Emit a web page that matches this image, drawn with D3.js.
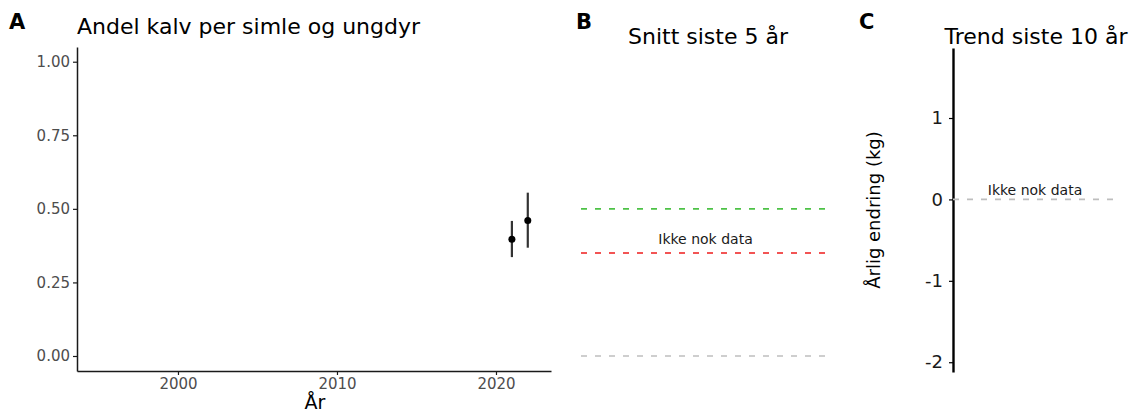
<!DOCTYPE html>
<html>
<head>
<meta charset="utf-8">
<script src="https://cdn.jsdelivr.net/npm/d3@7"></script>
<style>
  body { margin: 0; background: #fff; }
  text { font-family: "DejaVu Sans", sans-serif; }
</style>
</head>
<body>
<svg id="chart" width="1131" height="412"></svg>
<script>
// data
var years = [2021, 2022];
var andel = [0.397, 0.46];
var andelLow = [0.336, 0.368];
var andelHigh = [0.459, 0.555];
var yTicksA = [0, 0.25, 0.5, 0.75, 1];
var xTicksA = [2000, 2010, 2020];

var refValues = [0.5, 0.35, 0];       // panel B reference lines
var refLabel = "Ikke nok data";
var trendTicks = [1, 0, -1, -2];
var trendRef = 0;

var refColors = ["#4dc247", "#ee1c1c", "#bebebe"];

var svg = d3.select('#chart');

// ---- panel A
var xA = d3.scaleLinear().domain([1993.65, 2023.46]).range([77, 551]);
var yA = d3.scaleLinear().domain([-0.051, 1.05]).range([371, 47]);

svg.append('text').attr('x', 9).attr('y', 29).style('font-size', '21px')
  .style('font-weight', 'bold').text('A');
svg.append('text').attr('x', 77).attr('y', 34).style('font-size', '22px')
  .attr('fill', '#000').text('Andel kalv per simle og ungdyr');

var axY = svg.append('g').attr('transform', 'translate(77,0)')
  .call(d3.axisLeft(yA).tickValues(yTicksA).tickFormat(d3.format('.2f')).tickSize(4).tickSizeOuter(0).tickPadding(3));
var axX = svg.append('g').attr('transform', 'translate(0,371)')
  .call(d3.axisBottom(xA).tickValues(xTicksA).tickFormat(d3.format('d')).tickSize(4).tickSizeOuter(0).tickPadding(3));
[axY, axX].forEach(function (ax) {
  ax.select('.domain').attr('stroke', '#1a1a1a').attr('stroke-width', 1.5);
  ax.selectAll('.tick line').attr('stroke', '#1a1a1a').attr('stroke-width', 1.2);
  ax.selectAll('.tick text').attr('fill', '#4d4d4d').style('font-size', '15px');
});
svg.append('text').attr('x', 315).attr('y', 409).attr('text-anchor', 'middle')
  .style('font-size', '19px').text('År');

var pts = years.map(function (y, i) { return {year: y, v: andel[i], lo: andelLow[i], hi: andelHigh[i]}; });
svg.selectAll('.err').data(pts).enter().append('line')
  .attr('x1', d => xA(d.year)).attr('x2', d => xA(d.year))
  .attr('y1', d => yA(d.lo)).attr('y2', d => yA(d.hi))
  .attr('stroke', '#333').attr('stroke-width', 2.2);
svg.selectAll('.pt').data(pts).enter().append('circle')
  .attr('cx', d => xA(d.year)).attr('cy', d => yA(d.v)).attr('r', 3.5).attr('fill', '#000');

// ---- panel B
var xB = d3.scaleLinear().domain([0, 1]).range([581, 830]);
svg.append('text').attr('x', 576).attr('y', 29).style('font-size', '21px')
  .style('font-weight', 'bold').text('B');
svg.append('text').attr('x', 708).attr('y', 44).attr('text-anchor', 'middle')
  .style('font-size', '22px').text('Snitt siste 5 år');
svg.selectAll('.ref').data(refValues).enter().append('line')
  .attr('x1', xB(0)).attr('x2', xB(1))
  .attr('y1', d => yA(d)).attr('y2', d => yA(d))
  .attr('stroke', (d, i) => refColors[i]).attr('stroke-width', 1.6)
  .attr('stroke-dasharray', '6,8');
svg.append('text').attr('x', xB(0.5)).attr('y', yA(refValues[1]) - 9)
  .attr('text-anchor', 'middle').style('font-size', '14px').attr('fill', '#1a1a1a').text(refLabel);

// ---- panel C
var yC = d3.scaleLinear().domain([-2.12, 1.86]).range([372, 48]);
var xC = d3.scaleLinear().domain([0, 1]).range([953, 1117]);
svg.append('text').attr('x', 859).attr('y', 29).style('font-size', '21px')
  .style('font-weight', 'bold').text('C');
svg.append('text').attr('x', 1036).attr('y', 44).attr('text-anchor', 'middle')
  .style('font-size', '22px').text('Trend siste 10 år');
var axC = svg.append('g').attr('transform', 'translate(953,0)')
  .call(d3.axisLeft(yC).tickValues(trendTicks).tickFormat(d => String(d)).tickSize(4).tickSizeOuter(0).tickPadding(6));
axC.select('.domain').attr('stroke', '#000').attr('stroke-width', 2.4);
axC.selectAll('.tick line').attr('stroke', '#000').attr('stroke-width', 1.2);
axC.selectAll('.tick text').attr('fill', '#1a1a1a').style('font-size', '18px');
svg.append('text').attr('transform', 'translate(880,210) rotate(-90)').attr('text-anchor', 'middle')
  .style('font-size', '18px').text('Årlig endring (kg)');
svg.append('line').attr('x1', xC(0)).attr('x2', xC(1))
  .attr('y1', yC(trendRef)).attr('y2', yC(trendRef))
  .attr('stroke', '#bebebe').attr('stroke-width', 1.6).attr('stroke-dasharray', '6,8');
svg.append('text').attr('x', xC(0.5)).attr('y', yC(trendRef) - 4)
  .attr('text-anchor', 'middle').style('font-size', '14px').attr('fill', '#1a1a1a').text(refLabel);
</script>
</body>
</html>
